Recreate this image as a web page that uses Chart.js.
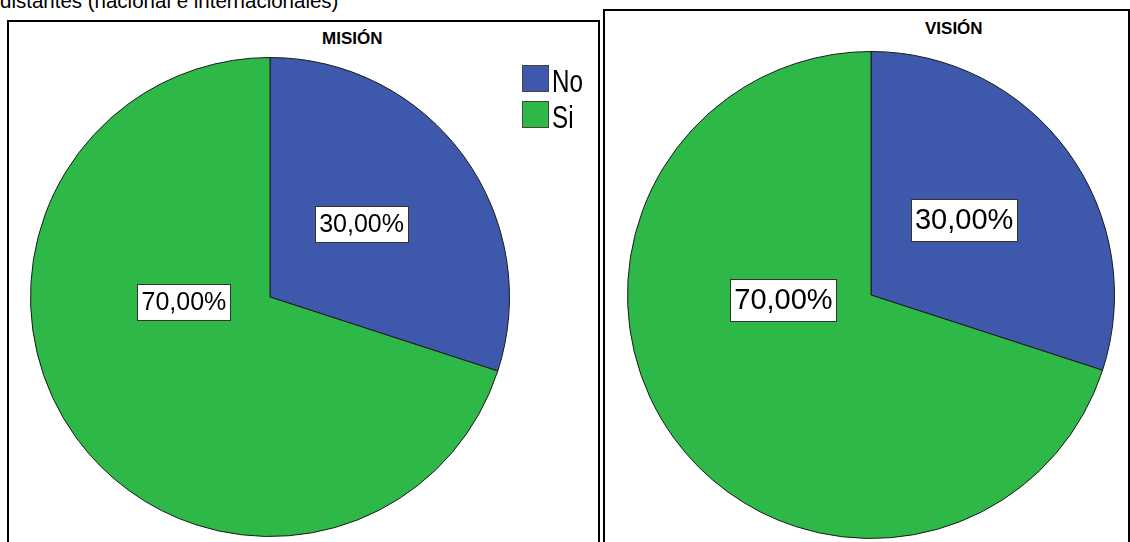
<!DOCTYPE html>
<html>
<head>
<meta charset="utf-8">
<script src="https://cdn.jsdelivr.net/npm/chart.js@4.4.0/dist/chart.umd.min.js"></script>
<style>
    body {
        margin: 0;
        width: 1130px;
        height: 542px;
        overflow: hidden;
        position: relative;
        background: #fff;
        font-family: "Liberation Sans", Arial, sans-serif;
        color: #000;
    }
    .caption {
        position: absolute;
        left: 0;
        top: -9px;
        font-size: 20.5px;
        line-height: 20px;
        white-space: nowrap;
    }
    .panel {
        position: absolute;
        border: 2px solid #000;
        box-sizing: border-box;
    }
    #panelMision { left: 7px; top: 20px; width: 593px; height: 540px; }
    #panelVision { left: 603px; top: 9px; width: 527px; height: 550px; }
    .title {
        position: absolute;
        font-size: 17px;
        line-height: 17px;
        font-weight: bold;
        white-space: nowrap;
    }
    .chartBox { position: absolute; }
    .legendBox {
        position: absolute;
        width: 27px;
        height: 27px;
        box-sizing: border-box;
        border: 1px solid #444;
    }
    .legendText {
        position: absolute;
        font-size: 31px;
        line-height: 27px;
        transform: scaleX(0.78);
        transform-origin: left top;
        white-space: nowrap;
    }
</style>
</head>
<body>
<div class="caption">distantes (nacional e internacionales)</div>
<div class="panel" id="panelMision"></div>
<div class="panel" id="panelVision"></div>
<div class="title" style="left:322px; top:30px;">MISIÓN</div>
<div class="title" style="left:925px; top:20px;">VISIÓN</div>
<div class="chartBox" style="left:10px; top:23px; width:588px; height:519px;">
    <canvas id="misionChart" width="588" height="519"></canvas>
</div>
<div class="chartBox" style="left:606px; top:12px; width:521px; height:530px;">
    <canvas id="visionChart" width="521" height="530"></canvas>
</div>
<div id="legend"></div>

<script>
const categories = ["No", "Si"];
const misionValues = [30, 70];
const visionValues = [30, 70];
const sliceColors = ["#3e58ac", "#2eb848"];

// legend (left panel only)
const legend = document.getElementById("legend");
categories.forEach((label, i) => {
    const box = document.createElement("div");
    box.className = "legendBox";
    box.style.left = "522px";
    box.style.top = 65 + i * 36 + "px";
    box.style.background = sliceColors[i];
    legend.appendChild(box);

    const text = document.createElement("div");
    text.className = "legendText";
    text.style.left = "552px";
    text.style.top = 68 + i * 36 + "px";
    text.textContent = label;
    legend.appendChild(text);
});

// percentage labels in white boxes, placed inside each slice
const boxLabels = {
    id: "boxLabels",
    afterDatasetsDraw(chart, args, opts) {
        const ctx = chart.ctx;
        const meta = chart.getDatasetMeta(0);
        const values = chart.data.datasets[0].data;
        const total = values.reduce((a, b) => a + b, 0);
        ctx.save();
        ctx.font = opts.size + 'px "Liberation Sans", Arial, sans-serif';
        ctx.textAlign = "center";
        ctx.textBaseline = "middle";
        meta.data.forEach((arc, i) => {
            const p = arc.getProps(["x", "y", "startAngle", "endAngle", "outerRadius"], true);
            const a = opts.anchors[i];
            const ang = p.startAngle + (p.endAngle - p.startAngle) * a.frac;
            const r = p.outerRadius * a.r;
            const x = p.x + Math.cos(ang) * r;
            const y = p.y + Math.sin(ang) * r;
            const text = (values[i] / total * 100).toFixed(2).replace(".", ",") + "%";
            const w = Math.round(ctx.measureText(text).width + opts.padX * 2);
            const h = Math.round(opts.size + opts.padY * 2);
            const left = Math.round(x - w / 2);
            const top = Math.round(y - h / 2);
            ctx.fillStyle = "#fff";
            ctx.fillRect(left, top, w, h);
            ctx.strokeStyle = "#333";
            ctx.lineWidth = 1;
            ctx.strokeRect(left + 0.5, top + 0.5, w, h);
            ctx.fillStyle = "#000";
            ctx.fillText(text, x, y + 1);
        });
        ctx.restore();
    },
};

function makePie(id, values, padding, labelSize, padY) {
    return new Chart(document.getElementById(id), {
        type: "pie",
        data: {
            labels: categories,
            datasets: [
                {
                    data: values,
                    backgroundColor: sliceColors,
                    borderColor: "#1a1a1a",
                    borderWidth: 1,
                },
            ],
        },
        options: {
            responsive: false,
            animation: false,
            layout: { padding: padding },
            plugins: {
                legend: { display: false },
                tooltip: { enabled: false },
                boxLabels: {
                    size: labelSize,
                    padX: 4,
                    padY: padY,
                    anchors: [
                        { frac: 0.475, r: 0.49 },
                        { frac: 0.63, r: 0.36 },
                    ],
                },
            },
        },
        plugins: [boxLabels],
    });
}

makePie("misionChart", misionValues, { left: 20, top: 34, right: 88, bottom: 5 }, 25, 5.5);
makePie("visionChart", visionValues, { left: 21, top: 39, right: 12, bottom: 3 }, 29, 6.5);
</script>
</body>
</html>
